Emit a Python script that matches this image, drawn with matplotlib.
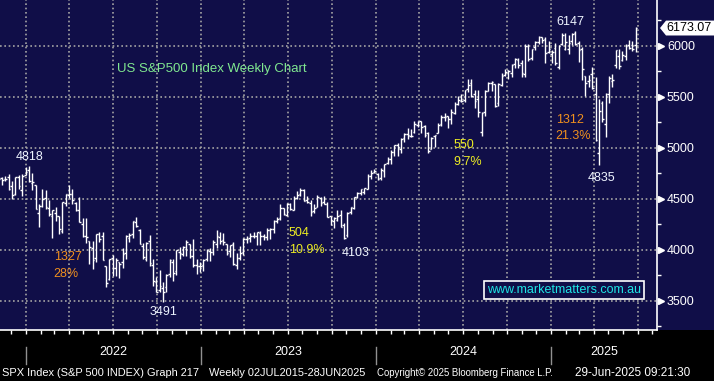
import matplotlib
matplotlib.use("Agg")
import matplotlib.pyplot as plt
import matplotlib.dates as mdates
from matplotlib.patches import Polygon, Rectangle
import numpy as np
import pandas as pd

# weekly S&P 500 bars, first week ends 05-Nov-2021, last week ends 27-Jun-2025
week_open = [
    4610, 4701, 4689, 4712, 4628, 4548, 4710, 4587, 4733,                     # 2021
    4778, 4655, 4632, 4356, 4431, 4505, 4412, 4332, 4364, 4327, 4188, 4462, 4541,
    4547, 4462, 4385, 4255, 4131, 4082, 4013, 3920, 4151, 4135, 3838, 3715, 3921,
    3818, 3880, 3883, 3965, 4112, 4155, 4269, 4195, 4041, 3910, 4084, 3849, 3682,
    3609, 3621, 3638, 3765, 3882, 3788, 3978, 3957, 4006, 4052, 3939, 3853, 3843,  # 2022
    3853, 3910, 3990, 3979, 4056, 4120, 4097, 4053, 3992, 4055, 3855, 3917, 3982,
    4102, 4110, 4137, 4132, 4166, 4136, 4126, 4190, 4205, 4283, 4308, 4405, 4337,
    4450, 4394, 4510, 4543, 4585, 4491, 4459, 4380, 4419, 4510, 4463, 4445, 4328,
    4284, 4289, 4342, 4239, 4140, 4365, 4406, 4514, 4554, 4568, 4593, 4725, 4759,  # 2023
    4745, 4703, 4772, 4853, 4892, 4957, 5026, 4989, 5094, 5130, 5111, 5154, 5219,
    5257, 5217, 5149, 4988, 5114, 5143, 5233, 5305, 5315, 5283, 5341, 5432, 5460,
    5471, 5572, 5638, 5525, 5476, 5151, 5351, 5557, 5637, 5623, 5442, 5615, 5711,
    5757, 5737, 5818, 5857, 5833, 5724, 6001, 5875, 5992, 6040, 6084, 6063, 5940,
    5920,                                                                        # 2024
    5982, 5788, 6014, 5969, 5969, 6046, 6121, 6026, 5969, 5705, 5653, 5718, 5527,
    4953, 5441, 5232, 5529, 5655, 5807, 5902, 5855, 5897, 6005, 6004, 6005,      # 2025
]
week_high = [
    4718, 4714, 4718, 4744, 4672, 4713, 4731, 4741, 4808,
    4818, 4749, 4632, 4453, 4595, 4590, 4490, 4385, 4416, 4327, 4465, 4546, 4637,
    4593, 4471, 4513, 4308, 4308, 4082, 4090, 4158, 4177, 4169, 3838, 3913, 3946,
    3919, 3880, 4013, 4140, 4167, 4280, 4325, 4203, 4062, 4076, 4140, 3907, 3733,
    3806, 3685, 3762, 3905, 3911, 4000, 4028, 4034, 4100, 4052, 4101, 3906, 3878,
    3906, 4003, 4015, 4095, 4195, 4176, 4167, 4056, 4049, 4079, 3963, 4039, 4110,
    4133, 4164, 4170, 4170, 4186, 4155, 4212, 4212, 4290, 4322, 4448, 4407, 4458,
    4456, 4528, 4578, 4607, 4595, 4528, 4491, 4448, 4541, 4514, 4527, 4466, 4333,
    4319, 4385, 4394, 4259, 4366, 4418, 4521, 4568, 4598, 4609, 4738, 4778, 4793,
    4755, 4798, 4842, 4907, 4975, 5030, 5048, 5098, 5140, 5190, 5180, 5262, 5265,
    5264, 5222, 5150, 5102, 5129, 5239, 5325, 5342, 5315, 5375, 5447, 5506, 5524,
    5570, 5670, 5669, 5563, 5566, 5351, 5564, 5643, 5651, 5623, 5636, 5733, 5767,
    5765, 5820, 5879, 5878, 5863, 6013, 6018, 5972, 6044, 6099, 6088, 6085, 6050,
    5960,
    6022, 6009, 6128, 6120, 6101, 6127, 6147, 6043, 5986, 5705, 5715, 5787, 5695,
    5481, 5459, 5533, 5700, 5720, 5959, 5968, 5944, 6016, 6059, 6050, 6187,
]
week_low = [
    4595, 4630, 4672, 4585, 4495, 4532, 4600, 4531, 4733,
    4662, 4582, 4395, 4222, 4414, 4401, 4335, 4115, 4279, 4157, 4161, 4424, 4506,
    4450, 4381, 4269, 4124, 4062, 3859, 3811, 3875, 4074, 3900, 3636, 3705, 3738,
    3742, 3721, 3820, 3913, 4079, 4112, 4218, 4057, 3907, 3887, 3837, 3647, 3584,
    3584, 3491, 3590, 3733, 3698, 3750, 3906, 3938, 3939, 3919, 3827, 3764, 3783,
    3794, 3885, 3885, 3948, 4018, 4060, 4047, 3944, 3928, 3846, 3809, 3901, 3951,
    4069, 4071, 4114, 4049, 4048, 4099, 4098, 4103, 4166, 4261, 4292, 4341, 4328,
    4385, 4394, 4498, 4528, 4474, 4458, 4335, 4356, 4418, 4430, 4448, 4316, 4238,
    4216, 4283, 4223, 4104, 4125, 4354, 4401, 4511, 4537, 4546, 4593, 4695, 4751,
    4682, 4682, 4714, 4845, 4845, 4918, 4920, 4946, 5056, 5090, 5104, 5147, 5203,
    5146, 5107, 4953, 4987, 5011, 5142, 5211, 5257, 5191, 5234, 5331, 5420, 5447,
    5446, 5547, 5497, 5390, 5302, 5119, 5306, 5555, 5560, 5402, 5406, 5603, 5704,
    5674, 5696, 5782, 5786, 5696, 5697, 5853, 5855, 5957, 6014, 6029, 5832, 5933,
    5829,
    5808, 5773, 6011, 5962, 5923, 6004, 6008, 5837, 5666, 5505, 5597, 5580, 5069,
    4835, 5255, 5101, 5434, 5597, 5786, 5767, 5848, 5861, 5963, 5952, 5943,
]
week_close = [
    4697, 4683, 4698, 4595, 4538, 4712, 4621, 4725, 4766,
    4677, 4663, 4398, 4432, 4501, 4419, 4349, 4385, 4329, 4204, 4463, 4543, 4546,
    4488, 4393, 4272, 4132, 4123, 4024, 3901, 4158, 4109, 3901, 3675, 3912, 3825,
    3899, 3863, 3962, 4130, 4145, 4280, 4228, 4058, 3924, 4067, 3873, 3693, 3586,
    3640, 3583, 3753, 3901, 3771, 3993, 3965, 4026, 4072, 3934, 3852, 3845, 3840,
    3895, 3999, 3973, 4071, 4136, 4090, 4079, 3970, 4046, 3862, 3917, 3971, 4109,
    4105, 4138, 4133, 4169, 4136, 4124, 4192, 4205, 4282, 4299, 4410, 4348, 4450,
    4399, 4505, 4536, 4582, 4478, 4464, 4370, 4406, 4515, 4457, 4450, 4320, 4288,
    4308, 4327, 4224, 4117, 4358, 4415, 4514, 4559, 4595, 4604, 4719, 4754, 4770,
    4697, 4784, 4840, 4891, 4959, 5027, 5006, 5089, 5137, 5124, 5117, 5234, 5254,
    5204, 5123, 4967, 5100, 5128, 5223, 5303, 5305, 5278, 5347, 5432, 5464, 5460,
    5567, 5615, 5505, 5459, 5347, 5344, 5554, 5634, 5648, 5408, 5626, 5703, 5738,
    5751, 5815, 5865, 5808, 5729, 5996, 5870, 5969, 6032, 6090, 6051, 5931, 5971,
    5942,
    5827, 5997, 6101, 6041, 6026, 6115, 6013, 5955, 5770, 5639, 5667, 5581, 5074,
    5363, 5283, 5525, 5686, 5660, 5958, 5803, 5912, 6000, 5977, 5967, 6173,
]
last_price = 6173.07

years = [2022, 2023, 2024, 2025]
y_ticks = [3500, 4000, 4500, 5000, 5500, 6000]

# turning points and moves written on the chart
swing_labels = ["4818", "3491", "4103", "6147", "4835"]
swing_dates = ["2022-01-07", "2022-10-14", "2023-10-27", "2025-02-21", "2025-04-11"]
swing_values = [4818, 3491, 4104, 6147, 4835]
swing_offsets = [(0.7, 6.7), (0.7, -7.5), (8, -10), (-3.9, 6.3), (2.2, -9.7)]

move_points = ["1327", "504", "550", "1312"]
move_pcts = ["28%", "10.9%", "9.7%", "21.3%"]
move_dates = ["2022-02-28", "2023-07-04", "2024-06-12", "2025-01-11"]
move_values = [3928, 4164, 5026, 5276]
move_colors = ["#f0901e", "#eeee22", "#eeee22", "#f0901e"]

NAVY = "#100e48"
plt.rcParams["font.family"] = ["Liberation Sans", "DejaVu Sans"]

week_end = pd.date_range("2021-11-05", periods=len(week_close), freq="W-FRI")
x = mdates.date2num(week_end)

fig = plt.figure(figsize=(7.14, 3.81), dpi=100, facecolor="black")
fig.patches.append(Rectangle((0, 51 / 381), 1, 330 / 381, transform=fig.transFigure,
                             facecolor=NAVY, edgecolor="none", zorder=-1))
ax = fig.add_axes([0, 51 / 381, 657 / 714, 330 / 381])
ax.set_facecolor(NAVY)

# OHLC bars
tick = 3.5
ax.vlines(x, week_low, week_high, color="white", lw=1.0, zorder=3)
ax.hlines(week_open, x - tick, x, color="white", lw=1.0, zorder=3)
ax.hlines(week_close, x, x + tick, color="white", lw=1.0, zorder=3)

start = mdates.date2num(pd.Timestamp("2022-01-01"))
ax.set_xlim(start - 54.3, start + 1317.4)
ax.set_ylim(3213, 6448)

ax.xaxis.set_major_locator(mdates.MonthLocator(bymonth=[1, 4, 7, 10]))
ax.xaxis.set_minor_locator(mdates.MonthLocator())
ax.yaxis.tick_right()
ax.set_yticks(y_ticks)
ax.set_yticks(np.arange(3250, 6400, 250), minor=True)
ax.tick_params(axis="x", which="both", direction="out", length=3, width=1,
               color="white", labelbottom=False)
ax.tick_params(axis="y", which="major", length=0, pad=7.2, labelsize=9,
               labelcolor="white")
ax.tick_params(axis="y", which="minor", direction="out", length=3, width=1,
               color="white")
ax.grid(True, which="major", color="#a4a4a4", linestyle=(0, (1, 1.6)), lw=1.2)
ax.set_axisbelow(True)

for side in ["top", "left"]:
    ax.spines[side].set_visible(False)
for side in ["right", "bottom"]:
    ax.spines[side].set_color("white")
    ax.spines[side].set_linewidth(1.2)

# arrow markers on the price scale
ax.plot([1 + 3.5 / 657] * len(y_ticks), y_ticks, ">", color="white", ms=5,
        mec="white", transform=ax.get_yaxis_transform(), clip_on=False, zorder=5)

# year strip below the chart
xt = ax.get_xaxis_transform()
right = ax.get_xlim()[1]
for yr in years:
    y0 = mdates.date2num(pd.Timestamp(f"{yr}-01-01"))
    y1 = min(mdates.date2num(pd.Timestamp(f"{yr + 1}-01-01")), right)
    ax.plot([y0, y0], [-0.052, -0.103], color="#909090", lw=1, transform=xt, clip_on=False)
    ax.text((y0 + y1) / 2, -0.067, str(yr), transform=xt, ha="center", va="center",
            color="white", fontsize=9)

# annotations
for lab, d, v, off in zip(swing_labels, swing_dates, swing_values, swing_offsets):
    ax.annotate(lab, (mdates.date2num(pd.Timestamp(d)), v), xytext=off,
                textcoords="offset points", ha="center", va="center",
                color="#eef4ff", fontsize=9, zorder=6)
for p, pct, d, v, c in zip(move_points, move_pcts, move_dates, move_values, move_colors):
    xd = mdates.date2num(pd.Timestamp(d))
    ax.annotate(p, (xd, v), ha="left", va="center", color=c, fontsize=9, zorder=6)
    ax.annotate(pct, (xd, v), xytext=(0, -12), textcoords="offset points",
                ha="left", va="center", color=c, fontsize=9, zorder=6)

ax.text(117 / 657, 1 - 69 / 330, "US S&P500 Index Weekly Chart", transform=ax.transAxes,
        ha="left", va="center", color="#80e890", fontsize=9.5)

ax.text(564 / 657, 1 - 290 / 330, "www.marketmatters.com.au", transform=ax.transAxes,
        ha="center", va="center", color="#1ee6e6", fontsize=9, zorder=6,
        bbox=dict(boxstyle="square,pad=0.25", fc=NAVY, ec="white", lw=1.2))

# last price tag
yt = ax.get_yaxis_transform()
h = 73
tag = Polygon([(660 / 657, last_price), (666 / 657, last_price + h), (720 / 657, last_price + h),
               (720 / 657, last_price - h), (666 / 657, last_price - h)],
              closed=True, transform=yt, fc="white", ec="none", clip_on=False, zorder=7)
ax.add_patch(tag)
ax.text(666 / 657, last_price, f"{last_price:.2f}", transform=yt, ha="left", va="center",
        color="black", fontsize=9, zorder=8, clip_on=False)

# footer line, each part squeezed to the width it takes in the Bloomberg strip
footer = [(2, 200, "SPX Index (S&P 500 INDEX) Graph 217"),
          (209, 367, "Weekly 02JUL2015-28JUN2025"),
          (377, 556, "Copyright\u00a9 2025 Bloomberg Finance L.P."),
          (575, 712, "29-Jun-2025 09:21:30")]
renderer = fig.canvas.get_renderer()
for px0, px1, s in footer:
    t = fig.text(px0 / 714, 8 / 381, s, ha="left", va="center", color="white", fontsize=8)
    w = t.get_window_extent(renderer).width
    t.set_fontsize(min(8.5, 8 * (px1 - px0) / w))

fig.savefig("out.png", dpi=100, facecolor=fig.get_facecolor())
